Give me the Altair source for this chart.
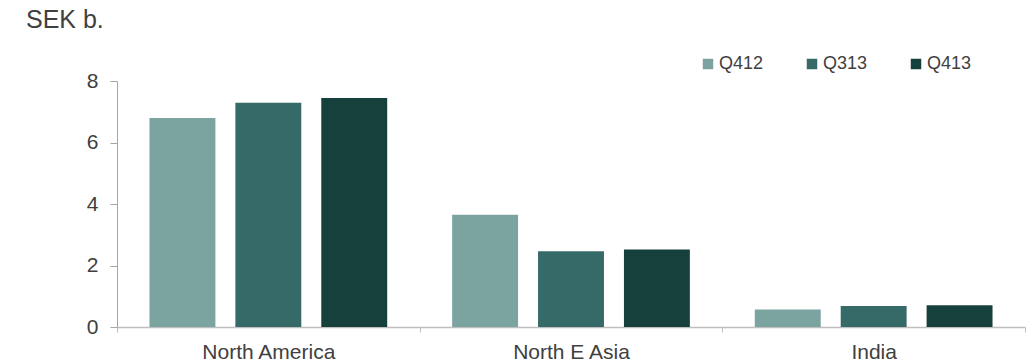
import altair as alt
import pandas as pd

regions = ["North America", "North E Asia", "India"]
series = ["Q412", "Q313", "Q413"]
q412 = [6.8, 3.65, 0.57]
q313 = [7.29, 2.46, 0.68]
q413 = [7.45, 2.52, 0.71]
colors = ["#7BA4A0", "#366A69", "#16403C"]

rows = []
for name, vals in zip(series, [q412, q313, q413]):
    for r, v in zip(regions, vals):
        rows.append({"region": r, "series": name, "value": v})
df = pd.DataFrame(rows)

FONT = "Liberation Sans"
TXT = "#404040"

chart = alt.Chart(df).mark_bar().encode(
    x=alt.X("region:N", sort=regions,
            scale=alt.Scale(paddingInner=0, paddingOuter=0),
            axis=alt.Axis(title=None, labelAngle=0, tickBand="extent",
                          labelFontSize=21, labelFont=FONT, labelColor=TXT,
                          domainColor="#BFBFBF", domainWidth=1.5,
                          tickColor="#BFBFBF", tickSize=5, labelPadding=9)),
    xOffset=alt.XOffset("series:N", sort=series,
                        scale=alt.Scale(paddingInner=0.2326, paddingOuter=0.378)),
    y=alt.Y("value:Q", scale=alt.Scale(domain=[0, 8], nice=False),
            axis=alt.Axis(values=[0, 2, 4, 6, 8], grid=False, title=None,
                          labelFontSize=21, labelFont=FONT, labelColor=TXT,
                          domainColor="#A6A6A6", tickColor="#A6A6A6",
                          tickSize=7, labelPadding=12)),
    color=alt.Color("series:N", sort=series,
                    scale=alt.Scale(domain=series, range=colors),
                    legend=alt.Legend(title=None, orient="none", direction="horizontal",
                                      legendX=582, legendY=-26, padding=0,
                                      symbolType="square", symbolSize=110,
                                      symbolStrokeWidth=0, labelFontSize=18,
                                      labelFont=FONT, labelColor=TXT,
                                      labelOffset=2, columnPadding=39)),
).properties(
    width=908, height=246,
    title=alt.TitleParams("SEK b.", anchor="start", frame="group", dx=-91, dy=-18,
                          fontSize=25, font=FONT, color=TXT, fontWeight="normal"),
    padding={"left": 117, "top": 81, "right": 1, "bottom": 37},
    autosize="none",
).configure_view(stroke=None)

chart.save("out.html", embed_options={"renderer": "svg", "actions": False})
